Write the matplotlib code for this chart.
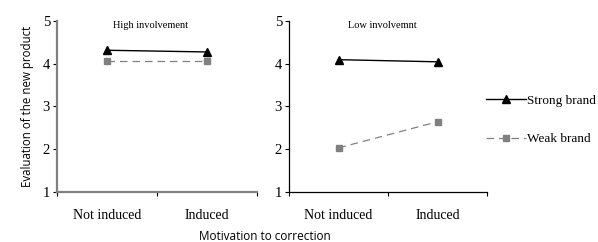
import matplotlib.pyplot as plt
from matplotlib.lines import Line2D

categories = ["Not induced", "Induced"]
panels = ["High involvement", "Low involvemnt"]
strong_high = [4.31, 4.27]
weak_high = [4.07, 4.07]
strong_low = [4.09, 4.04]
weak_low = [2.03, 2.64]
yticks = [1, 2, 3, 4, 5]

serif = "Liberation Serif"
sans = "Open Sans"

fig = plt.figure(figsize=(5.98, 2.42), dpi=100)
ax1 = fig.add_axes([57/598, 1-192/242, 200/598, 171.3/242])
ax2 = fig.add_axes([289/598, 1-192/242, 198/598, 171.3/242])

x = [0.5, 1.5]
for ax, strong, weak, title, spc, spw in [
        (ax1, strong_high, weak_high, panels[0], "#808080", 1.6),
        (ax2, strong_low, weak_low, panels[1], "black", 0.9)]:
    ax.plot(x, strong, color="black", lw=1.0, marker="^", ms=5.5)
    ax.plot(x, weak, color="#808080", lw=0.9, ls=(0, (6, 4)), marker="s", ms=4.5)
    ax.set_xlim(0, 2)
    ax.set_ylim(1, 5)
    ax.set_xticks([0, 1, 2])
    ax.set_xticklabels([])
    ax.set_xticks(x, minor=True)
    ax.set_xticklabels(categories, minor=True, fontfamily=serif, fontsize=10)
    ax.tick_params(axis="x", which="minor", length=0, pad=12)
    ax.tick_params(axis="x", which="major", length=3, width=0.8, direction="out")
    ax.set_yticks(yticks)
    ax.set_yticklabels([str(v) for v in yticks], fontfamily=serif, fontsize=10.5)
    ax.tick_params(axis="y", length=3, width=0.8, pad=2)
    for s in ["top", "right"]:
        ax.spines[s].set_visible(False)
    for s in ["left", "bottom"]:
        ax.spines[s].set_color(spc)
        ax.spines[s].set_linewidth(spw)
    ax.text(0.47, 0.97, title, transform=ax.transAxes, ha="center", va="center",
            fontfamily=serif, fontsize=7.5)

ax1.set_ylabel("Evaluation of the new product", fontfamily=sans, fontsize=8.3,
               labelpad=6)
fig.text(265/598, 1-236/242, "Motivation to correction", ha="center",
         va="center", fontfamily=sans, fontsize=8.5)

handles = [Line2D([], [], color="black", lw=1.0, marker="^", ms=5.5),
           Line2D([], [], color="#808080", lw=0.9, ls=(0, (6, 4)), marker="s", ms=4.5)]
fig.legend(handles, ["Strong brand", "Weak brand"], loc="center left",
           bbox_to_anchor=(486/598, 1-120/242), frameon=False,
           prop={"family": serif, "size": 9.5}, handlelength=3.0,
           handletextpad=0.1, labelspacing=2.0, borderpad=0, borderaxespad=0)

fig.savefig("out.png", dpi=100)
